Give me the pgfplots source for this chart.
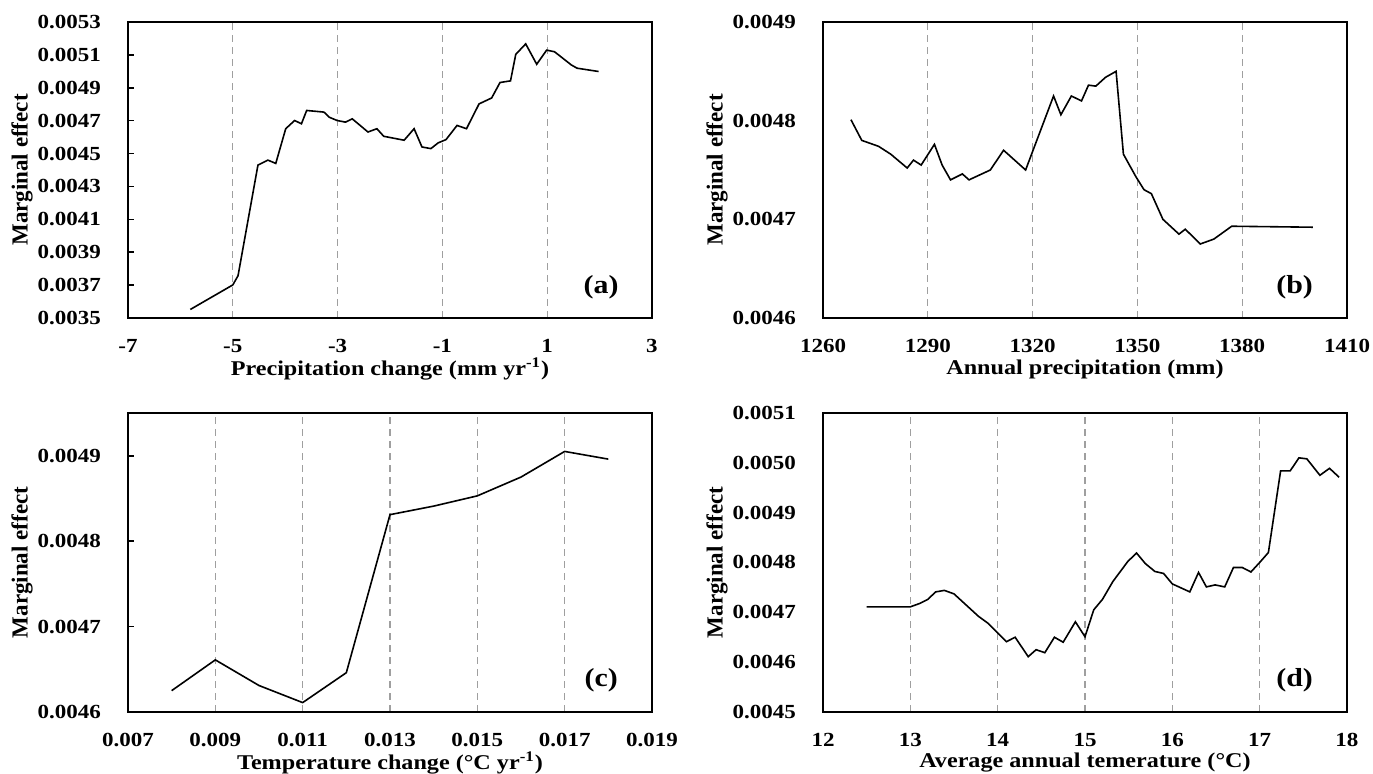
\documentclass[border=0pt]{standalone}
\usepackage{fontspec}
\setmainfont{Liberation Serif}[FakeStretch=1.15]
\newfontfamily\ylabfont{Liberation Serif}
\usepackage{pgfplots}
\pgfplotsset{compat=1.18}

\pgfplotstableread{
x y
-5.81 0.003552
-5.00 0.003701
-4.90 0.003757
-4.52 0.004430
-4.33 0.004460
-4.18 0.004440
-3.99 0.004651
-3.82 0.004701
-3.69 0.004681
-3.59 0.004762
-3.26 0.004752
-3.16 0.004721
-3.01 0.004701
-2.85 0.004691
-2.72 0.004711
-2.42 0.004631
-2.25 0.004651
-2.12 0.004605
-1.73 0.004581
-1.54 0.004651
-1.39 0.004540
-1.22 0.004530
-1.08 0.004565
-0.93 0.004585
-0.72 0.004671
-0.54 0.004651
-0.30 0.004802
-0.06 0.004838
0.10 0.004932
0.30 0.004942
0.40 0.005103
0.59 0.005167
0.80 0.005043
0.99 0.005129
1.14 0.005119
1.46 0.005039
1.57 0.005019
1.98 0.004999
}\tabA

\pgfplotstableread{
x y
1268.0 0.004801
1271.1 0.004780
1275.9 0.004774
1279.4 0.004766
1284.1 0.004752
1285.9 0.004760
1288.1 0.004755
1291.9 0.004776
1294.1 0.004755
1296.5 0.004740
1299.9 0.004746
1301.8 0.004740
1307.9 0.004750
1311.7 0.004770
1318.0 0.004750
1326.0 0.004825
1328.1 0.004806
1331.1 0.004825
1334.0 0.004820
1336.0 0.004836
1338.1 0.004835
1340.9 0.004844
1343.9 0.004850
1346.0 0.004766
1349.6 0.004743
1351.9 0.004730
1354.0 0.004726
1357.3 0.004700
1361.9 0.004685
1363.7 0.004690
1368.0 0.004675
1371.9 0.004680
1377.0 0.004693
1400.2 0.004692
}\tabB

\pgfplotstableread{
x y
0.008 0.004625
0.009 0.004661
0.010 0.004631
0.011 0.004611
0.012 0.004646
0.013 0.004831
0.014 0.004841
0.015 0.004853
0.016 0.004875
0.017 0.004905
0.018 0.004896
}\tabC

\pgfplotstableread{
x y
12.50 0.004711
13.00 0.004711
13.11 0.004718
13.20 0.004726
13.29 0.004741
13.39 0.004744
13.50 0.004737
13.78 0.004692
13.89 0.004678
14.10 0.004641
14.20 0.004650
14.35 0.004611
14.44 0.004625
14.54 0.004619
14.65 0.004650
14.75 0.004640
14.89 0.004681
15.00 0.004651
15.10 0.004705
15.20 0.004726
15.32 0.004762
15.49 0.004802
15.59 0.004819
15.69 0.004798
15.80 0.004782
15.90 0.004778
16.00 0.004757
16.20 0.004741
16.30 0.004780
16.39 0.004751
16.49 0.004755
16.60 0.004751
16.70 0.004790
16.80 0.004790
16.90 0.004781
17.00 0.004800
17.10 0.004820
17.24 0.004984
17.35 0.004984
17.45 0.005010
17.54 0.005008
17.69 0.004975
17.80 0.004989
17.91 0.004971
}\tabD

\tikzset{plab/.style={font=\bfseries\fontsize{13}{15}\selectfont}}

\pgfplotsset{
  panel/.style={
    scale only axis,
    width=262pt, height=148pt,
    axis line style={line width=1pt},
    xmajorgrids,
    grid style={gray!75, line width=0.6pt, dash pattern=on 3.5pt off 2.5pt},
    major x tick style={draw=none},
    ytick style={black, line width=0.8pt},
    tick align=inside,
    ytick pos=left,
    major tick length=3pt,
    scaled ticks=false,
    tick label style={font=\bfseries\fontsize{10}{12}\selectfont},
    xticklabel style={yshift=-7pt},
    yticklabel style={xshift=-10pt},
    xlabel style={at={(axis description cs:0.5,0)}, anchor=center, yshift=-25.5pt,
      font=\bfseries\fontsize{10.5}{12}\selectfont},
    ylabel style={at={(axis description cs:-0.202,0.5)}, anchor=center,
      font=\ylabfont\bfseries\fontsize{11.5}{13}\selectfont},
    ylabel={Marginal effect},
  },
  curve/.style={black, line width=0.8pt, mark=none},
}

\begin{document}
\begin{tikzpicture}
\useasboundingbox (0,0) rectangle (686.5pt,-387pt);

% (a)
\begin{axis}[panel, at={(64pt,-11pt)}, anchor=north west,
  xmin=-7, xmax=3, ymin=0.0035, ymax=0.0053,
  xtick={-7,-5,-3,-1,1,3}, xticklabels={-7,-5,-3,-1,1,3},
  ytick={0.0035,0.0037,0.0039,0.0041,0.0043,0.0045,0.0047,0.0049,0.0051,0.0053},
  yticklabels={0.0035,0.0037,0.0039,0.0041,0.0043,0.0045,0.0047,0.0049,0.0051,0.0053},
  xlabel={Precipitation change (mm yr\textsuperscript{-1})}]
\addplot[curve] table {\tabA};
\node[plab] at (rel axis cs:0.903,0.105) {(a)};
\end{axis}

% (b)
\begin{axis}[panel, at={(411.5pt,-11pt)}, anchor=north west,
  xmin=1260, xmax=1410, ymin=0.0046, ymax=0.0049,
  xtick={1260,1290,1320,1350,1380,1410},
  xticklabels={1260,1290,1320,1350,1380,1410},
  ytick={0.0046,0.0047,0.0048,0.0049},
  yticklabels={0.0046,0.0047,0.0048,0.0049},
  major y tick style={draw=none},
  xlabel={Annual precipitation (mm)}]
\addplot[curve] table {\tabB};
\node[plab] at (rel axis cs:0.9,0.105) {(b)};
\end{axis}

% (c)
\begin{axis}[panel, at={(64pt,-206.5pt)}, anchor=north west, height=149.5pt,
  xmin=0.007, xmax=0.019, ymin=0.0046, ymax=0.00495,
  xtick={0.007,0.009,0.011,0.013,0.015,0.017,0.019},
  xticklabels={0.007,0.009,0.011,0.013,0.015,0.017,0.019},
  ytick={0.0046,0.0047,0.0048,0.0049},
  yticklabels={0.0046,0.0047,0.0048,0.0049},
  xlabel={Temperature change (°C yr\textsuperscript{-1})}]
\addplot[curve] table {\tabC};
\node[plab] at (rel axis cs:0.903,0.105) {(c)};
\end{axis}

% (d)
\begin{axis}[panel, at={(411.5pt,-206.5pt)}, anchor=north west, height=149.5pt,
  xmin=12, xmax=18, ymin=0.0045, ymax=0.0051,
  xtick={12,13,14,15,16,17,18}, xticklabels={12,13,14,15,16,17,18},
  ytick={0.0045,0.0046,0.0047,0.0048,0.0049,0.0050,0.0051},
  yticklabels={0.0045,0.0046,0.0047,0.0048,0.0049,0.0050,0.0051},
  major y tick style={draw=none},
  xlabel={Average annual temerature (°C)}]
\addplot[curve] table {\tabD};
\node[plab] at (rel axis cs:0.9,0.105) {(d)};
\end{axis}
\end{tikzpicture}
\end{document}
